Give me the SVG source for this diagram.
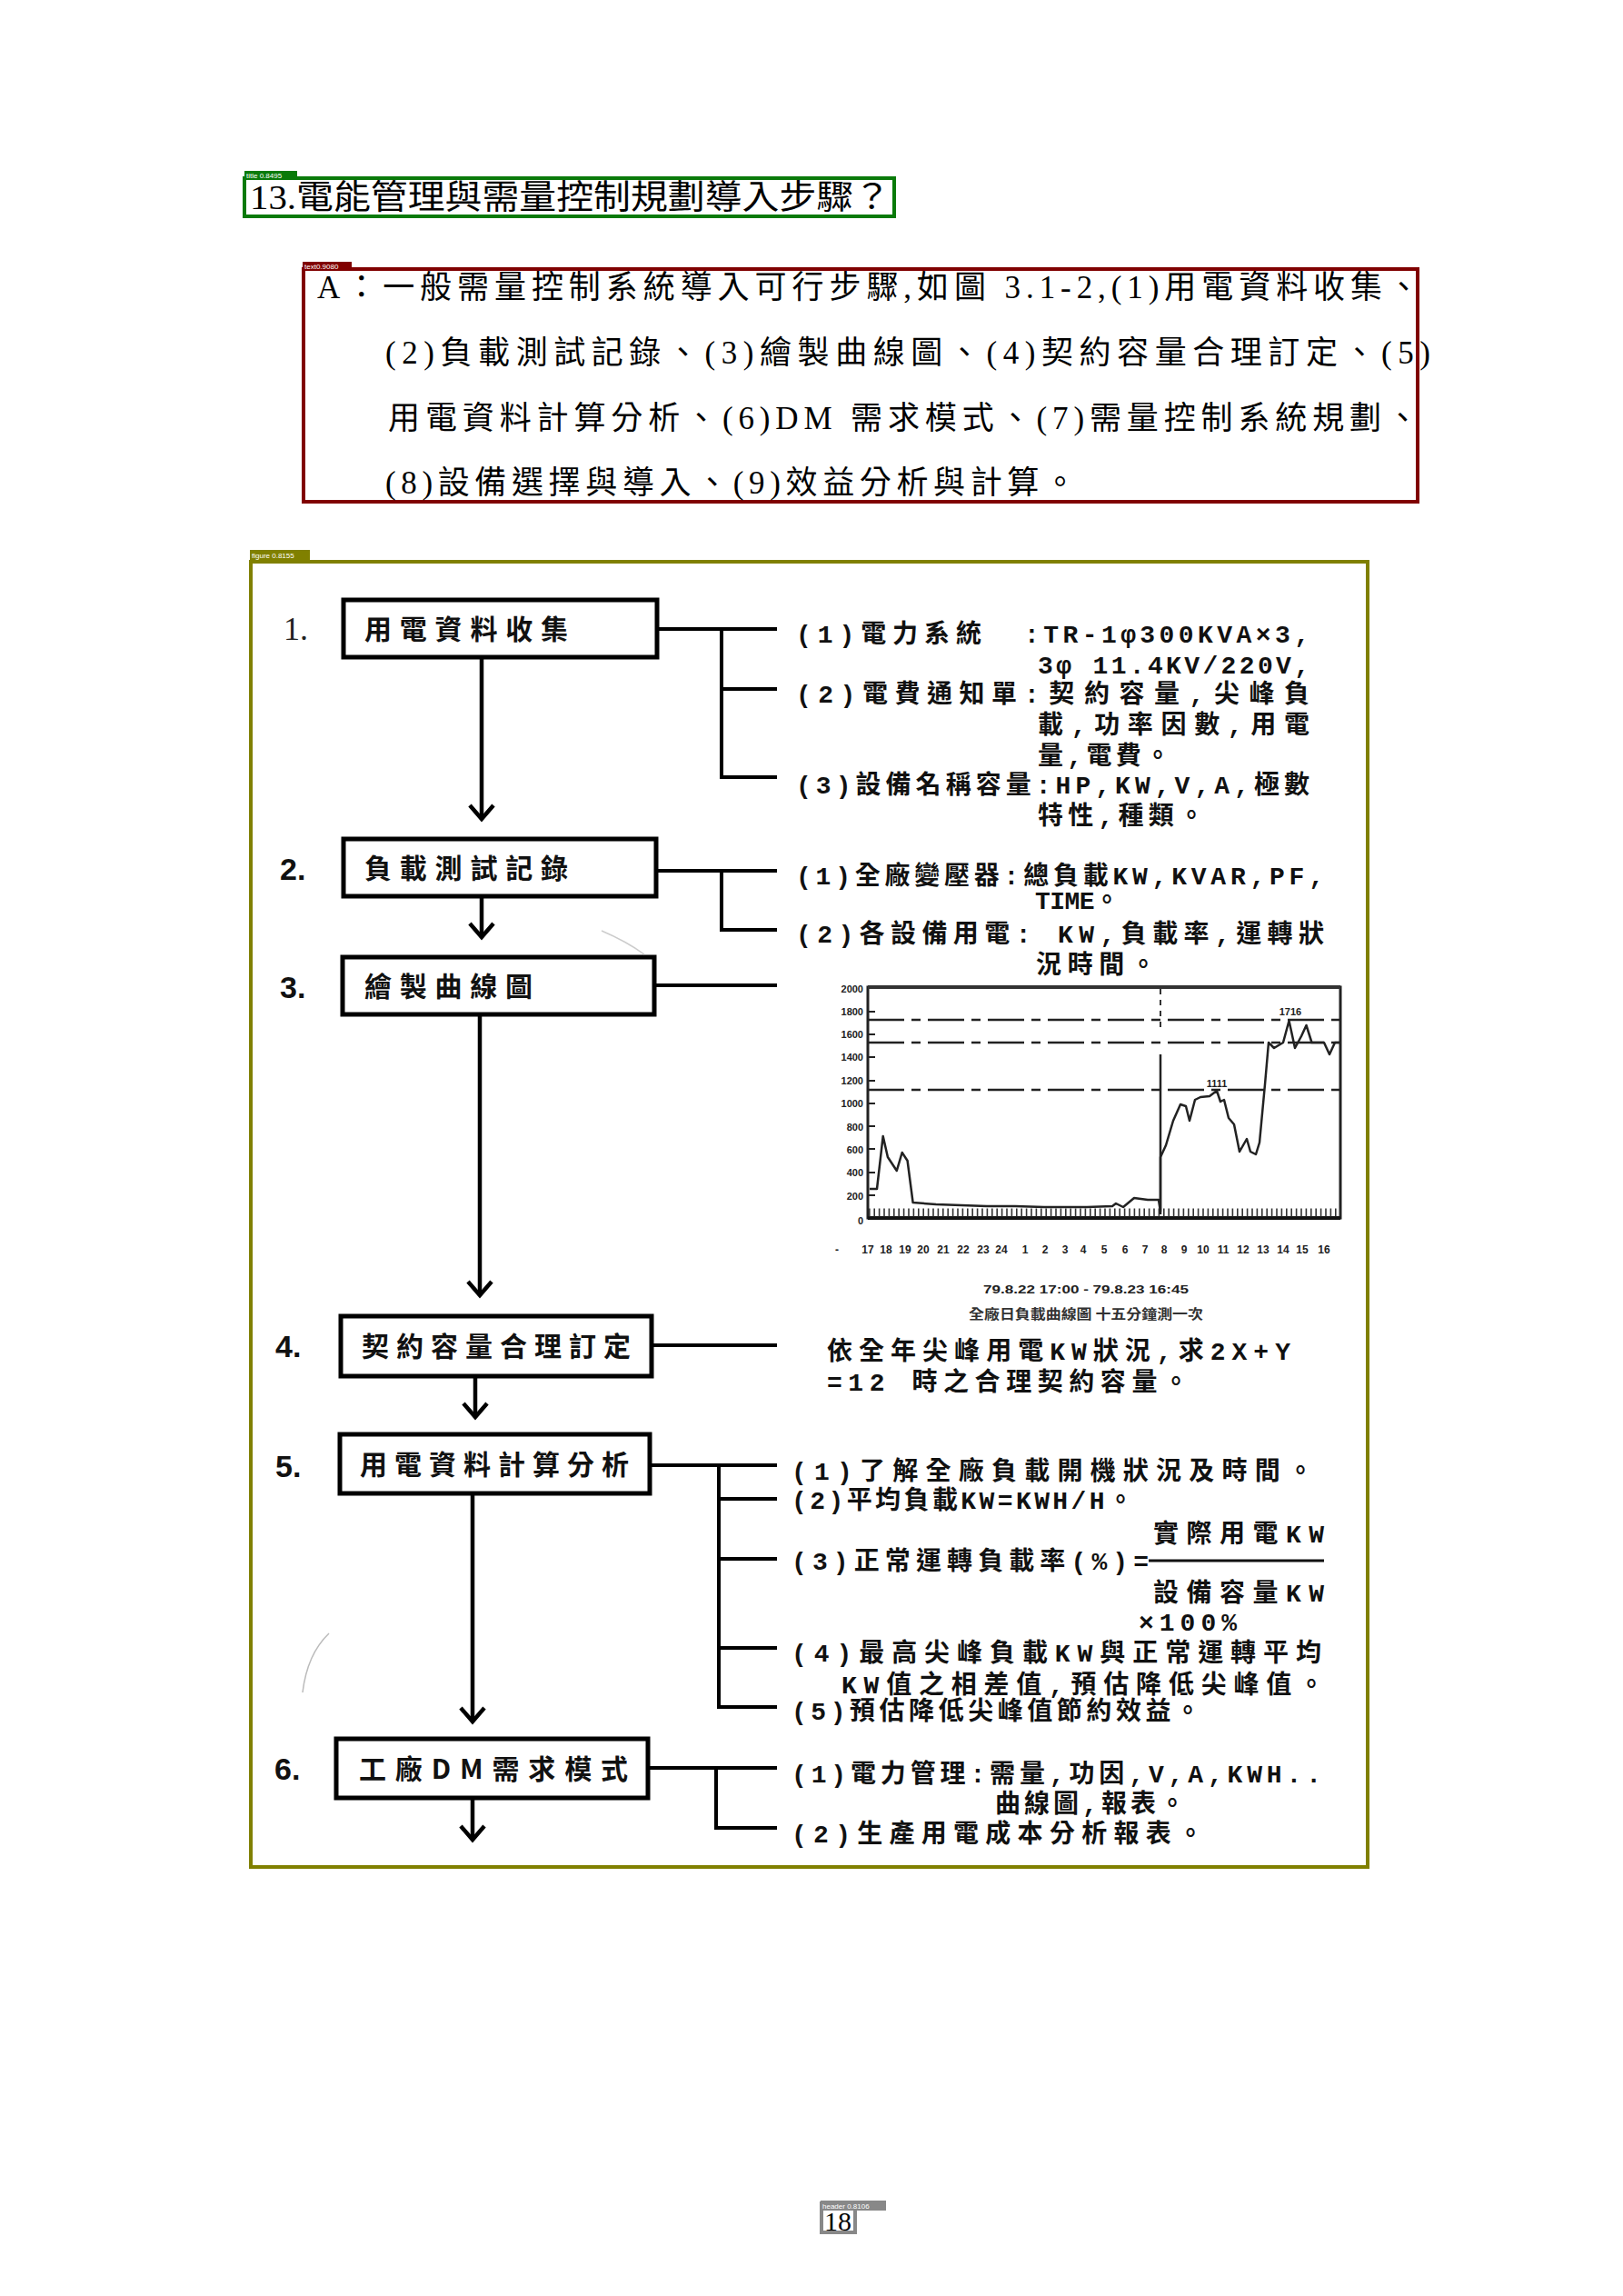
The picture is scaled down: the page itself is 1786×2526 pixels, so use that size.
<svg xmlns="http://www.w3.org/2000/svg" width="1786" height="2526" viewBox="0 0 1786 2526">
  <style>
    .tagtxt { font-family: 'Liberation Sans', sans-serif; font-size: 8px; fill: #fff; }
    .body { font-family: 'Liberation Serif', 'Noto Sans CJK TC', serif; font-size: 35px; fill: #000; }
    .box { fill: #fff; stroke: #000; stroke-width: 5; }
    .lbl { font-family: 'Noto Sans CJK TC', sans-serif; font-weight: 700; font-size: 30px; fill: #111; }
    .num { font-family: 'Liberation Sans', sans-serif; font-weight: 700; font-size: 34px; fill: #111; }
    .note { font-family: 'Liberation Mono', 'Noto Sans CJK TC', monospace; font-weight: 700; font-size: 28px; fill: #111; }
    .conn { stroke: #000; stroke-width: 4; fill: none; }
    .flow { stroke: #000; stroke-width: 4.5; fill: none; marker-end: url(#vee); }
    .ax { font-family: 'Liberation Sans', sans-serif; font-weight: 700; font-size: 11px; fill: #222; }
    .xl { font-family: 'Liberation Sans', sans-serif; font-weight: 700; font-size: 12px; fill: #222; text-anchor: middle; }
    .ref { stroke: #222; stroke-width: 2.5; fill: none; stroke-dasharray: 40 8 10 8; }
  </style>
  <defs>
    <marker id="vee" markerUnits="userSpaceOnUse" orient="auto" refX="0" refY="0" markerWidth="40" markerHeight="40" style="overflow:visible">
      <path d="M-15,-13 L0,0 L-15,13" fill="none" stroke="#000" stroke-width="4.5"/>
    </marker>
  </defs>

  <rect width="1786" height="2526" fill="#fff"/>

  <!-- heading -->
  <g id="title">
    <rect x="269" y="196" width="715" height="42" fill="none" stroke="#0a7a0a" stroke-width="4"/>
    <rect x="269" y="188" width="58" height="9" fill="#0a7a0a"/>
    <text class="tagtxt" x="271" y="195.5">title 0.8495</text>
    <text x="275" y="230" font-family="'Liberation Serif','Noto Sans CJK TC',serif" font-size="37" textLength="705" lengthAdjust="spacingAndGlyphs">13.電能管理與需量控制規劃導入步驟？</text>
  </g>

  <!-- answer paragraph -->
  <g id="answer">
    <rect x="334" y="296" width="1226" height="256" fill="none" stroke="#800000" stroke-width="4"/>
    <rect x="333" y="288" width="54" height="9" fill="#800000"/>
    <text class="tagtxt" x="335" y="295.5">text0.9080</text>
    <text class="body" x="349" y="328" textLength="1213" lengthAdjust="spacing">A：一般需量控制系統導入可行步驟,如圖 3.1-2,(1)用電資料收集、</text>
    <text class="body" x="424" y="400" textLength="1150" lengthAdjust="spacing">(2)負載測試記錄、(3)繪製曲線圖、(4)契約容量合理訂定、(5)</text>
    <text class="body" x="427" y="472" textLength="1134" lengthAdjust="spacing">用電資料計算分析、(6)DM  需求模式、(7)需量控制系統規劃、</text>
    <text class="body" x="424" y="543" textLength="760" lengthAdjust="spacing">(8)設備選擇與導入、(9)效益分析與計算。</text>
  </g>

  <!-- figure frame -->
  <g id="figure">
    <rect x="276" y="618" width="1229" height="1436" fill="none" stroke="#808000" stroke-width="4"/>
    <rect x="275" y="605" width="66" height="12" fill="#808000"/>
    <text class="tagtxt" x="277" y="614">figure 0.8155</text>
  </g>

  <!-- connectors -->
  <g id="connectors">
    <!-- main downward flow -->
    <line class="flow" x1="530" y1="723" x2="530" y2="901"/>
    <line class="flow" x1="530" y1="986" x2="530" y2="1031"/>
    <line class="flow" x1="528" y1="1116" x2="528" y2="1425"/>
    <line class="flow" x1="523" y1="1514" x2="523" y2="1559"/>
    <line class="flow" x1="520" y1="1643" x2="520" y2="1894"/>
    <line class="flow" x1="520" y1="1978" x2="520" y2="2024"/>
    <!-- step 1 branches -->
    <path class="conn" d="M723,692 H855 M794,692 V855 H855 M794,758 H855"/>
    <!-- step 2 branches -->
    <path class="conn" d="M722,958 H855 M794,958 V1023 H855"/>
    <!-- step 3 -->
    <path class="conn" d="M720,1084 H855" stroke-width="3"/>
    <!-- step 4 -->
    <path class="conn" d="M717,1480 H855" stroke-width="3"/>
    <!-- step 5 branches -->
    <path class="conn" d="M715,1612 H855 M791,1612 V1878 H855 M791,1649 H855 M791,1715 H855 M791,1813 H855"/>
    <!-- step 6 branches -->
    <path class="conn" d="M713,1945 H855 M788,1945 V2011 H855"/>
  </g>

  <!-- step nodes -->
  <g id="step1">
    <text x="312" y="704" font-family="'Liberation Serif',serif" font-size="36" fill="#222">1.</text>
    <rect class="box" x="378" y="660" width="345" height="63"/>
    <text class="lbl" x="401" y="703" textLength="224" lengthAdjust="spacing">用電資料收集</text>
  </g>
  <g id="step2">
    <text class="num" x="308" y="968">2.</text>
    <rect class="box" x="378" y="923" width="344" height="63"/>
    <text class="lbl" x="401" y="966" textLength="224" lengthAdjust="spacing">負載測試記錄</text>
  </g>
  <g id="step3">
    <text class="num" x="308" y="1098">3.</text>
    <rect class="box" x="377" y="1053" width="343" height="63"/>
    <text class="lbl" x="401" y="1096" textLength="185" lengthAdjust="spacing">繪製曲線圖</text>
  </g>
  <g id="step4">
    <text class="num" x="303" y="1493">4.</text>
    <rect class="box" x="375" y="1448" width="342" height="66"/>
    <text class="lbl" x="398" y="1492" textLength="296" lengthAdjust="spacing">契約容量合理訂定</text>
  </g>
  <g id="step5">
    <text class="num" x="303" y="1625">5.</text>
    <rect class="box" x="374" y="1578" width="341" height="65"/>
    <text class="lbl" x="396" y="1622" textLength="296" lengthAdjust="spacing">用電資料計算分析</text>
  </g>
  <g id="step6">
    <text class="num" x="302" y="1958">6.</text>
    <rect class="box" x="370" y="1913" width="343" height="65"/>
    <text class="lbl" x="395" y="1957" textLength="296" lengthAdjust="spacing">工廠DM需求模式</text>
  </g>

  <!-- step 1 notes -->
  <g id="notes1">
    <text class="note" x="876" y="707" textLength="204" lengthAdjust="spacing">(1)電力系統</text>
    <text class="note" x="1127" y="707" textLength="314" lengthAdjust="spacing">:TR-1φ300KVA×3,</text>
    <text class="note" x="1142" y="741" textLength="299" lengthAdjust="spacing">3φ 11.4KV/220V,</text>
    <text class="note" x="876" y="773" textLength="243" lengthAdjust="spacing">(2)電費通知單</text>
    <text class="note" x="1127" y="773" textLength="314" lengthAdjust="spacing">:契約容量,尖峰負</text>
    <text class="note" x="1142" y="807" textLength="299" lengthAdjust="spacing">載,功率因數,用電</text>
    <text class="note" x="1142" y="841" textLength="146" lengthAdjust="spacing">量,電費。</text>
    <text class="note" x="876" y="873" textLength="565" lengthAdjust="spacing">(3)設備名稱容量:HP,KW,V,A,極數</text>
    <text class="note" x="1142" y="907" textLength="183" lengthAdjust="spacing">特性,種類。</text>
  </g>

  <!-- step 2 notes -->
  <g id="notes2">
    <text class="note" x="876" y="973" textLength="581" lengthAdjust="spacing">(1)全廠變壓器:總負載KW,KVAR,PF,</text>
    <text class="note" x="1139" y="1000" font-size="22" textLength="93" lengthAdjust="spacing">TIME。</text>
    <text class="note" x="876" y="1037" textLength="581" lengthAdjust="spacing">(2)各設備用電: KW,負載率,運轉狀</text>
    <text class="note" x="1140" y="1071" textLength="132" lengthAdjust="spacing">況時間。</text>
  </g>

  <!-- step 3: daily load curve -->
  <g id="loadchart">
    <!-- frame -->
    <path d="M955,1086 H1475 V1340 H955 Z" fill="none" stroke="#222" stroke-width="3"/>
    <line x1="955" y1="1086" x2="1475" y2="1086" stroke="#333" stroke-width="4"/>
    <line x1="955" y1="1340" x2="1475" y2="1340" stroke="#111" stroke-width="4"/>
    <!-- 15-minute tick strip -->
    <line x1="956" y1="1334" x2="1475" y2="1334" stroke="#333" stroke-width="9" stroke-dasharray="1.6 3.8"/>
    <!-- y ticks -->
    <path d="M955,1113 h8 M955,1138 h8 M955,1163 h8 M955,1189 h8 M955,1214 h8 M955,1239 h8 M955,1264 h8 M955,1290 h8 M955,1315 h8" stroke="#222" stroke-width="2"/>
    <!-- y labels -->
    <g class="ax" text-anchor="end">
      <text x="950" y="1092">2000</text>
      <text x="950" y="1117">1800</text>
      <text x="950" y="1142">1600</text>
      <text x="950" y="1167">1400</text>
      <text x="950" y="1193">1200</text>
      <text x="950" y="1218">1000</text>
      <text x="950" y="1244">800</text>
      <text x="950" y="1269">600</text>
      <text x="950" y="1294">400</text>
      <text x="950" y="1320">200</text>
      <text x="950" y="1347">0</text>
    </g>
    <!-- reference levels -->
    <line class="ref" x1="955" y1="1122" x2="1475" y2="1122"/>
    <line class="ref" x1="955" y1="1147" x2="1475" y2="1147" stroke-width="3.5"/>
    <line class="ref" x1="955" y1="1199" x2="1475" y2="1199"/>
    <!-- 08:00 marker -->
    <line x1="1277" y1="1088" x2="1277" y2="1134" stroke="#333" stroke-width="2" stroke-dasharray="6 6"/>
    <line x1="1277" y1="1160" x2="1277" y2="1336" stroke="#222" stroke-width="2.5"/>
    <!-- load trace -->
    <path d="M957,1308 L965,1308 L971.7,1250 L976.9,1273 L986.8,1288 L992.7,1268 L998.6,1277 L1004.6,1323 L1030,1325 L1058,1326 L1086,1327 L1117,1327 L1149,1328 L1196,1328 L1224,1327 L1228,1324 L1236,1328 L1248,1318 L1263,1320 L1275,1320 L1277,1333 L1277,1273 L1283,1260 L1291,1233 L1299,1215 L1305,1217 L1309,1233 L1315,1210 L1321,1207 L1331,1206 L1339,1200 L1343,1212 L1347,1210 L1352,1230 L1358,1237 L1364,1267 L1372,1253 L1376,1267 L1382,1270 L1386,1257 L1392,1193 L1396,1147 L1402,1153 L1412,1147 L1418.5,1123 L1425,1153 L1432,1140 L1437.5,1128 L1443.5,1147 L1457,1147 L1463,1160 L1469,1147 L1475,1147" fill="none" stroke="#222" stroke-width="2.5" stroke-linejoin="round"/>
    <text class="ax" x="1420" y="1117" text-anchor="middle" font-size="12">1716</text>
    <text class="ax" x="1339" y="1196" text-anchor="middle" font-size="12">1111</text>
    <!-- hour labels -->
    <text class="xl" x="921" y="1379">-</text>
    <g>
      <text class="xl" x="955" y="1379">17</text>
      <text class="xl" x="975" y="1379">18</text>
      <text class="xl" x="996" y="1379">19</text>
      <text class="xl" x="1016" y="1379">20</text>
      <text class="xl" x="1038" y="1379">21</text>
      <text class="xl" x="1060" y="1379">22</text>
      <text class="xl" x="1082" y="1379">23</text>
      <text class="xl" x="1102" y="1379">24</text>
      <text class="xl" x="1128" y="1379">1</text>
      <text class="xl" x="1150" y="1379">2</text>
      <text class="xl" x="1172" y="1379">3</text>
      <text class="xl" x="1192" y="1379">4</text>
      <text class="xl" x="1215" y="1379">5</text>
      <text class="xl" x="1238" y="1379">6</text>
      <text class="xl" x="1260" y="1379">7</text>
      <text class="xl" x="1281" y="1379">8</text>
      <text class="xl" x="1303" y="1379">9</text>
      <text class="xl" x="1324" y="1379">10</text>
      <text class="xl" x="1346" y="1379">11</text>
      <text class="xl" x="1368" y="1379">12</text>
      <text class="xl" x="1390" y="1379">13</text>
      <text class="xl" x="1412" y="1379">14</text>
      <text class="xl" x="1433" y="1379">15</text>
      <text class="xl" x="1457" y="1379">16</text>
    </g>
    <text class="xl" x="1195" y="1423" textLength="226" lengthAdjust="spacingAndGlyphs">79.8.22 17:00 - 79.8.23 16:45</text>
    <text x="1195" y="1451" text-anchor="middle" font-family="'Noto Sans CJK TC',sans-serif" font-weight="700" font-size="15" fill="#333" textLength="258" lengthAdjust="spacingAndGlyphs">全廠日負載曲線圖 十五分鐘測一次</text>
  </g>

  <!-- step 4 notes -->
  <g id="notes4">
    <text class="note" x="910" y="1496" textLength="510" lengthAdjust="spacing">依全年尖峰用電KW狀況,求2X+Y</text>
    <text class="note" x="910" y="1530" textLength="398" lengthAdjust="spacing">=12 時之合理契約容量。</text>
  </g>

  <!-- step 5 notes -->
  <g id="notes5">
    <text class="note" x="871" y="1628" textLength="574" lengthAdjust="spacing">(1)了解全廠負載開機狀況及時間。</text>
    <text class="note" x="871" y="1660" textLength="376" lengthAdjust="spacing">(2)平均負載KW=KWH/H。</text>
    <text class="note" x="1269" y="1697" textLength="188" lengthAdjust="spacing">實際用電KW</text>
    <text class="note" x="871" y="1727" textLength="393" lengthAdjust="spacing">(3)正常運轉負載率(%)=</text>
    <line x1="1264" y1="1717" x2="1457" y2="1717" stroke="#111" stroke-width="3"/>
    <text class="note" x="1269" y="1762" textLength="188" lengthAdjust="spacing">設備容量KW</text>
    <text class="note" x="1253" y="1794" textLength="108" lengthAdjust="spacing">×100%</text>
    <text class="note" x="871" y="1828" textLength="583" lengthAdjust="spacing">(4)最高尖峰負載KW與正常運轉平均</text>
    <text class="note" x="926" y="1863" textLength="531" lengthAdjust="spacing">KW值之相差值,預估降低尖峰值。</text>
    <text class="note" x="871" y="1892" textLength="450" lengthAdjust="spacing">(5)預估降低尖峰值節約效益。</text>
  </g>

  <!-- step 6 notes -->
  <g id="notes6">
    <text class="note" x="871" y="1961" textLength="583" lengthAdjust="spacing">(1)電力管理:需量,功因,V,A,KWH..</text>
    <text class="note" x="1095" y="1994" textLength="209" lengthAdjust="spacing">曲線圖,報表。</text>
    <text class="note" x="871" y="2027" textLength="453" lengthAdjust="spacing">(2)生產用電成本分析報表。</text>
  </g>

  <!-- faint scan marks -->
  <path d="M333,1862 Q338,1820 362,1797" fill="none" stroke="#bbb" stroke-width="1.5"/>
  <path d="M662,1024 Q690,1036 709,1050" fill="none" stroke="#ccc" stroke-width="1.5"/>

  <!-- page number -->
  <g id="pagenum">
    <rect x="904" y="2424" width="37" height="32" fill="none" stroke="#888" stroke-width="4"/>
    <rect x="903" y="2421" width="72" height="11" fill="#888"/>
    <text class="tagtxt" x="905" y="2430" font-size="9">header 0.8106</text>
    <text x="922" y="2454" text-anchor="middle" font-family="'Liberation Serif',serif" font-size="30" fill="#000">18</text>
  </g>
</svg>
